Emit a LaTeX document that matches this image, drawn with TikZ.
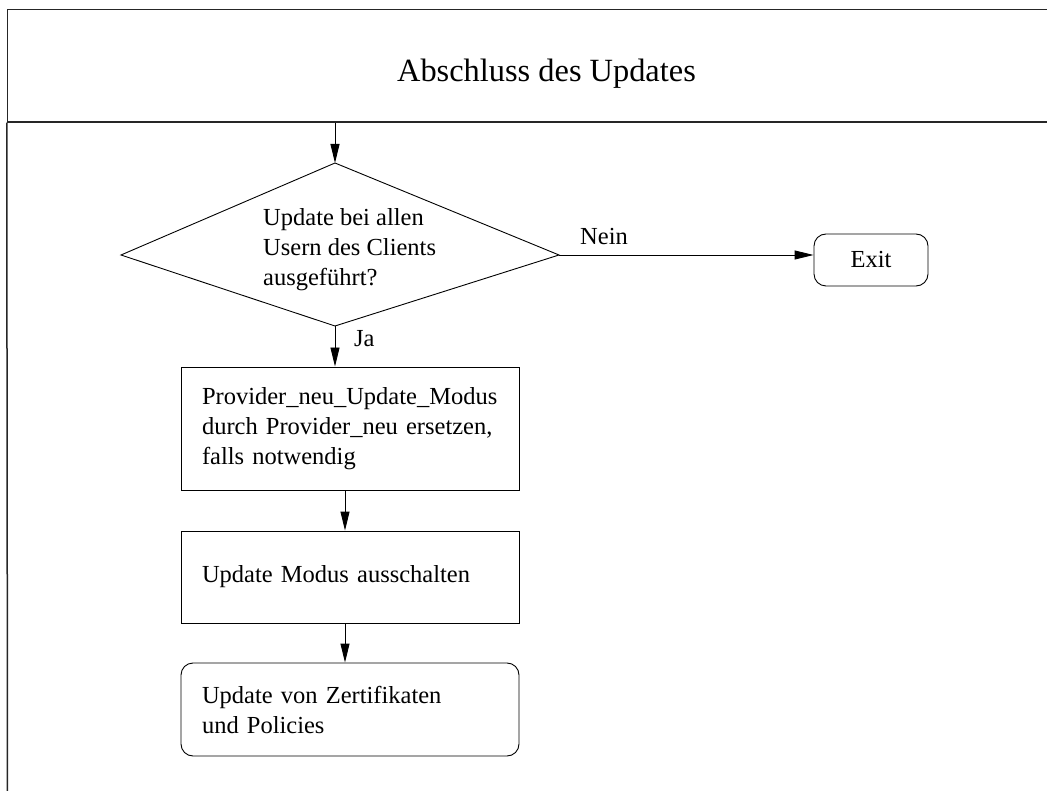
\documentclass[tikz,border=0pt]{standalone}
\usepackage{fontspec}
\setmainfont{Liberation Serif}
\usetikzlibrary{arrows.meta}

\tikzset{
  frameline/.style={line width=1.5pt, draw=black!85},
  shapeline/.style={line width=0.9pt, draw=black},
  flow/.style={shapeline, -{Triangle[length=19pt, width=9pt]}},
  bodyfont/.style={font=\fontsize{24.5}{30}\selectfont},
  stepbox/.style={shapeline, bodyfont, rectangle, minimum width=338pt,
    text width=296pt, inner xsep=21pt, inner ysep=0pt, align=left},
  roundbox/.style={stepbox, rounded corners=12pt},
  plaintext/.style={bodyfont, inner sep=0pt, align=left},
}

\begin{document}
\begin{tikzpicture}[x=1pt, y=-1pt]
  \useasboundingbox (0,0) rectangle (1047,791);
  \clip (0,0) rectangle (1047,791);

  % page frame with header band
  \node[frameline, rectangle, minimum width=1078pt, minimum height=112.5pt,
        inner sep=0pt] (header) at (546.5,65.75) {};
  \coordinate (framebottom) at (7.5,800);
  \draw[frameline] (header.south west) -- (framebottom);
  \node[font=\fontsize{32.4}{38}\selectfont, inner sep=0pt, anchor=base]
        (title) at (546.5,81.7) {Abschluss des Updates};

  % decision polygon
  \coordinate (dtop)   at (335,163);
  \coordinate (dright) at (559,255);
  \coordinate (dbot)   at (335,326);
  \coordinate (dleft)  at (121,255);
  \draw[shapeline] (dtop) -- (dright) -- (dbot) -- (dleft) -- cycle;
  \node[plaintext, anchor=west] (question) at (263,249.3)
        {Update bei allen\\Usern des Clients\\ausgeführt?};

  % exit
  \node[shapeline, bodyfont, rectangle, rounded corners=12pt,
        minimum width=114pt, minimum height=52pt, inner sep=0pt]
        (exit) at (871,260) {Exit};

  % process steps
  \node[stepbox, minimum height=123pt] (replace) at (350,428.5)
        {Provider\_neu\_Update\_Modus\\durch Provider\_neu ersetzen,\\falls notwendig};
  \node[stepbox, minimum height=92pt] (modeoff) at (350,577)
        {Update Modus ausschalten};
  \node[roundbox, minimum height=93pt] (certs) at (350,709.5)
        {Update von Zertifikaten\\und Policies};

  % connectors
  \draw[flow] (header.south -| dtop) -- (dtop);
  \draw[flow] (dright) -- (dright -| exit.west);
  \draw[flow] (dbot) -- (dbot |- replace.north);
  \draw[flow] ([xshift=-5pt]replace.south) -- ([xshift=-5pt]modeoff.north);
  \draw[flow] ([xshift=-5pt]modeoff.south) -- ([xshift=-5pt]certs.north);

  % branch labels
  \node[plaintext, anchor=base west] (nein) at (580,245) {Nein};
  \node[plaintext, anchor=base west] (ja) at (354,346.7) {Ja};
\end{tikzpicture}
\end{document}
